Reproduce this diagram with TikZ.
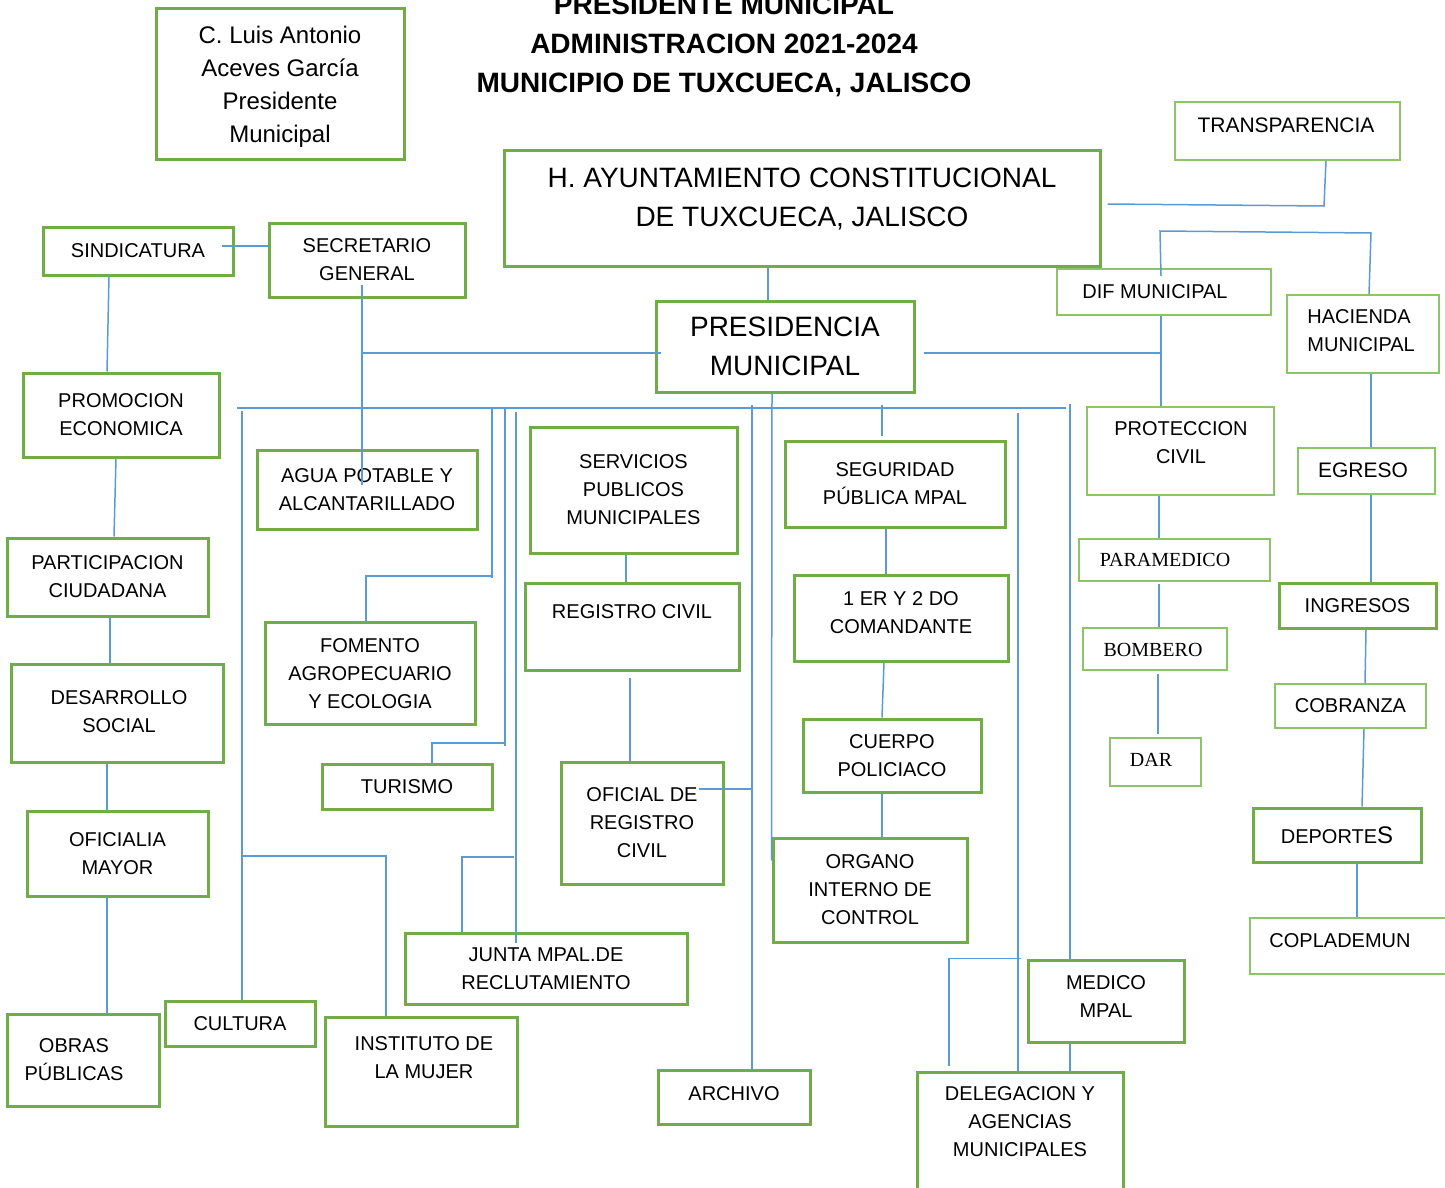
\documentclass[tikz,border=0pt]{standalone}
\usepackage{fontspec}
\setmainfont{Liberation Sans}
\newfontfamily\romfont{Liberation Serif}
\definecolor{boxgreen}{HTML}{70AD47}
\definecolor{boxlight}{HTML}{8CC468}
\definecolor{linkblue}{HTML}{5B9BD5}
\tikzset{
  gbox/.style={draw=boxgreen, line width=1.5pt, inner sep=0pt},
  lbox/.style={draw=boxlight, line width=0.8pt, inner sep=0pt},
  sz/.style 2 args={minimum width=#1*0.5pt, minimum height=#2*0.5pt},
  txt/.style={align=center, font=\fontsize{10}{14}\selectfont},
  romtxt/.style={align=center, font=\romfont\fontsize{10}{14}\selectfont},
  bigtxt/.style={align=center, font=\fontsize{14}{19.5}\selectfont},
  titletxt/.style={align=center, font=\bfseries\fontsize{14}{19.5}\selectfont},
  conn/.style={draw=linkblue, line width=0.75pt},
}
\begin{document}
\begin{tikzpicture}[x=0.5pt, y=-0.5pt]
\useasboundingbox (0,0) rectangle (1445,1188);
\clip (0,0) rectangle (1445,1188);

% title and heads
\node[titletxt] (title) at (724,46) {PRESIDENTE MUNICIPAL\\ADMINISTRACION 2021-2024\\MUNICIPIO DE TUXCUECA, JALISCO};
\node[gbox, sz={248}{150}, align=center, font=\fontsize{12}{16.5}\selectfont] (luis) at (280,84) {};
\node[align=center, font=\fontsize{12}{16.5}\selectfont] (luis-t) at (280,86.5) {C. Luis Antonio\\Aceves García\\Presidente\\Municipal};
\node[gbox, sz={596}{116}] (ayunt) at (802,208) {};
\node[bigtxt] (ayunt-t) at (802,199) {H. AYUNTAMIENTO CONSTITUCIONAL\\DE TUXCUECA, JALISCO};
\node[lbox, sz={225}{58}] (transp) at (1287.5,131) {};
\node[txt, font=\fontsize{10.5}{14}\selectfont] (transp-t) at (1286,125) {TRANSPARENCIA};
\node[gbox, bigtxt, sz={258}{91}] (pres) at (785,346.5) {PRESIDENCIA\\MUNICIPAL};

% left column
\node[gbox, txt, sz={190}{48}] (sind) at (138,251) {SINDICATURA};
\node[gbox, txt, sz={196}{74}] (secre) at (367,260) {SECRETARIO\\GENERAL};
\node[gbox, txt, sz={196}{84}] (promo) at (121,415) {PROMOCION\\ECONOMICA};
\node[gbox, txt, sz={201}{78}] (partic) at (107.5,577) {PARTICIPACION\\CIUDADANA};
\node[gbox, sz={212}{98}] (desarr) at (117,713) {};
\node[txt] (desarr-t) at (119,712) {DESARROLLO\\SOCIAL};
\node[gbox, txt, sz={181}{85}] (ofmay) at (117.5,854) {OFICIALIA\\MAYOR};
\node[gbox, sz={152}{92}] (obras) at (83,1060) {};
\node[txt] (obras-t) at (74,1059.5) {OBRAS\\PÚBLICAS};

% middle
\node[gbox, txt, sz={220}{79}] (agua) at (367,489.5) {AGUA POTABLE Y\\ALCANTARILLADO};
\node[gbox, txt, sz={210}{102}] (foment) at (370,673.5) {FOMENTO\\AGROPECUARIO\\Y ECOLOGIA};
\node[gbox, txt, sz={170}{45}] (turis) at (407,786.5) {TURISMO};
\node[gbox, txt, sz={150}{45}] (cult) at (240,1023.5) {CULTURA};
\node[gbox, sz={192}{109}] (inst) at (421,1071.5) {};
\node[txt] (inst-t) at (424,1058) {INSTITUTO DE\\LA MUJER};
\node[gbox, txt, sz={282}{71}] (junta) at (546,969) {JUNTA MPAL.DE\\RECLUTAMIENTO};
\node[gbox, txt, sz={207}{126}] (serv) at (633.5,490) {SERVICIOS\\PUBLICOS\\MUNICIPALES};
\node[gbox, sz={214}{87}] (regciv) at (632,626.5) {};
\node[txt] (regciv-t) at (632,612) {REGISTRO CIVIL};
\node[gbox, txt, sz={162}{122}] (ofic) at (642,823) {OFICIAL DE\\REGISTRO\\CIVIL};
\node[gbox, sz={152}{54}] (arch) at (734,1097) {};
\node[txt] (arch-t) at (734,1094) {ARCHIVO};
\node[gbox, txt, sz={220}{86}] (segur) at (895,484) {SEGURIDAD\\PÚBLICA MPAL};
\node[gbox, sz={214}{86}] (coman) at (901,618) {};
\node[txt] (coman-t) at (901,612.5) {1 ER Y 2 DO\\COMANDANTE};
\node[gbox, txt, sz={178}{73}] (cuerpo) at (892,755.5) {CUERPO\\POLICIACO};
\node[gbox, txt, sz={194}{104}] (organo) at (870,890) {ORGANO\\INTERNO DE\\CONTROL};
\node[gbox, sz={156}{82}] (medico) at (1106,1001) {};
\node[txt] (medico-t) at (1106,997) {MEDICO\\MPAL};
\node[gbox, sz={206}{130}, anchor=north] (deleg) at (1020,1071) {};
\node[txt] (deleg-t) at (1020,1121.5) {DELEGACION Y\\AGENCIAS\\MUNICIPALES};

% right columns
\node[lbox, sz={214}{46}] (dif) at (1164,292) {};
\node[txt] (dif-t) at (1155,292) {DIF MUNICIPAL};
\node[lbox, sz={187}{88}] (protec) at (1180.5,451) {};
\node[txt] (protec-t) at (1181,443) {PROTECCION\\CIVIL};
\node[lbox, sz={191}{42}] (param) at (1174.5,560) {};
\node[romtxt] (param-t) at (1165,560) {PARAMEDICO};
\node[lbox, sz={144}{42}] (bomb) at (1155,649) {};
\node[romtxt] (bomb-t) at (1153,650) {BOMBERO};
\node[lbox, sz={91}{48}] (dar) at (1155.5,762) {};
\node[romtxt] (dar-t) at (1151,760) {DAR};
\node[lbox, sz={152}{78}] (hac) at (1363,334) {};
\node[txt, align=left, anchor=west, inner sep=0pt] (hac-t) at (1307,331) {HACIENDA\\MUNICIPAL};
\node[lbox, sz={137}{46}] (egreso) at (1366.5,471) {};
\node[txt, font=\fontsize{10.5}{14}\selectfont] (egreso-t) at (1363,470) {EGRESO};
\node[gbox, txt, sz={157}{45}] (ingr) at (1357.5,605.5) {INGRESOS};
\node[lbox, txt, sz={151}{44}] (cobr) at (1350.5,706) {COBRANZA};
\node[gbox, txt, sz={168}{54}] (deport) at (1337,835) {DEPORTE{\fontsize{12}{14}\selectfont S}};
\node[lbox, sz={220}{56}, anchor=west] (copla) at (1249,946) {};
\node[txt] (copla-t) at (1340,941) {COPLADEMUN};

% junction points
\coordinate (sgj) at (362,353);
\coordinate (difj) at (1162,353);
\coordinate (hj1) at (1160,231);
\coordinate (hj2) at (1371,233);
\coordinate (tj) at (1324,206);
\coordinate (busl) at (237,408);
\coordinate (busr) at (1066,408);
\coordinate (b1) at (242,411);
\coordinate (b2) at (492,408);
\coordinate (b3) at (505,408);
\coordinate (b4) at (516,412);
\coordinate (b5) at (752,405);
\coordinate (b6) at (882,405);
\coordinate (b7) at (1018,413);
\coordinate (b8) at (1070,404);
\coordinate (cj) at (242,856);

% left column links
\draw[conn] ([xshift=-6.5pt]sind.east |- 0,246) -- (secre.west |- 0,246);
\draw[conn] (sind.south -| 109,0) -- (promo.north -| 107,0);
\draw[conn] (promo.south -| 116,0) -- (partic.north -| 114,0);
\draw[conn] (partic.south -| 110,0) -- (desarr.north -| 110,0);
\draw[conn] (desarr.south -| 107,0) -- (ofmay.north -| 107,0);
\draw[conn] (ofmay.south -| 107,0) -- (obras.north -| 107,0);

% top links
\draw[conn] ([yshift=7pt]secre.south -| sgj) -- (sgj) -- ([yshift=-18pt]agua.north -| sgj);
\draw[conn] (sgj) -- ([xshift=3pt]pres.west |- sgj);
\draw[conn] (ayunt.south -| 768,0) -- (pres.north -| 768,0);
\draw[conn] ([xshift=4pt]pres.east |- difj) -- (difj);
\draw[conn] ([xshift=3pt]ayunt.east |- 0,204) -- (tj) -- (transp.south -| 1326,0);
\draw[conn] ([yshift=-4pt]dif.north -| 1161,0) -- (hj1) -- (hj2) -- (hac.north -| 1369,0);
\draw[conn] (dif.south -| 1161,0) -- (protec.north -| 1161,0);

% right column links
\draw[conn] (protec.south -| 1159,0) -- (param.north -| 1159,0);
\draw[conn] ([yshift=-1pt]param.south -| 1159,0) -- (bomb.north -| 1159,0);
\draw[conn] ([yshift=-1.5pt]bomb.south -| 1158,0) -- ([yshift=1.5pt]dar.north -| 1158,0);
\draw[conn] (hac.south -| 1371,0) -- (egreso.north -| 1371,0);
\draw[conn] (egreso.south -| 1371,0) -- (ingr.north -| 1371,0);
\draw[conn] (ingr.south -| 1366,0) -- (cobr.north -| 1365,0);
\draw[conn] (cobr.south -| 1364,0) -- (deport.north -| 1362,0);
\draw[conn] (deport.south -| 1357,0) -- (copla.north -| 1357,0);

% main bus and drops
\draw[conn] (busl) -- (busr);
\draw[conn] (pres.south -| 772,0) -- ([yshift=-12pt]organo.north west);
\draw[conn] (b1) -- (cult.north -| b1);
\draw[conn] (cj) -| (inst.north -| 386,0);
\draw[conn] (b2) -- ++(0,170) ++(0,-2) -| (foment.north -| 366,0);
\draw[conn] (b3) -- ++(0,338) ++(0,-3) -| (turis.north -| 432,0);
\draw[conn] (b4) -- ([yshift=-5.5pt]junta.north -| b4);
\draw[conn] ([xshift=-1pt]b4 |- 0,857) -| (junta.north -| 462,0);
\draw[conn] (b5) -- (arch.north -| b5);
\draw[conn] ([xshift=-13pt]ofic.east |- 0,789) -- (b5 |- 0,789);
\draw[conn] (b6) -- ([yshift=2pt]segur.north -| b6);
\draw[conn] (b7) -- (deleg.north -| b7);
\draw[conn] (b8) -- (medico.north -| b8);
\draw[conn] (medico.south -| b8) -- (deleg.north -| b8);
\draw[conn] ([xshift=1.5pt]b7 |- medico.north) -| ([yshift=2.5pt]deleg.north -| 949,0);

% inner chains
\draw[conn] (serv.south -| 626,0) -- (regciv.north -| 626,0);
\draw[conn] ([yshift=-3pt]regciv.south -| 630,0) -- (ofic.north -| 630,0);
\draw[conn] (segur.south -| 886,0) -- (coman.north -| 886,0);
\draw[conn] (coman.south -| 884,0) -- (cuerpo.north -| 882,0);
\draw[conn] (cuerpo.south -| 882,0) -- (organo.north -| 882,0);
\end{tikzpicture}
\end{document}
